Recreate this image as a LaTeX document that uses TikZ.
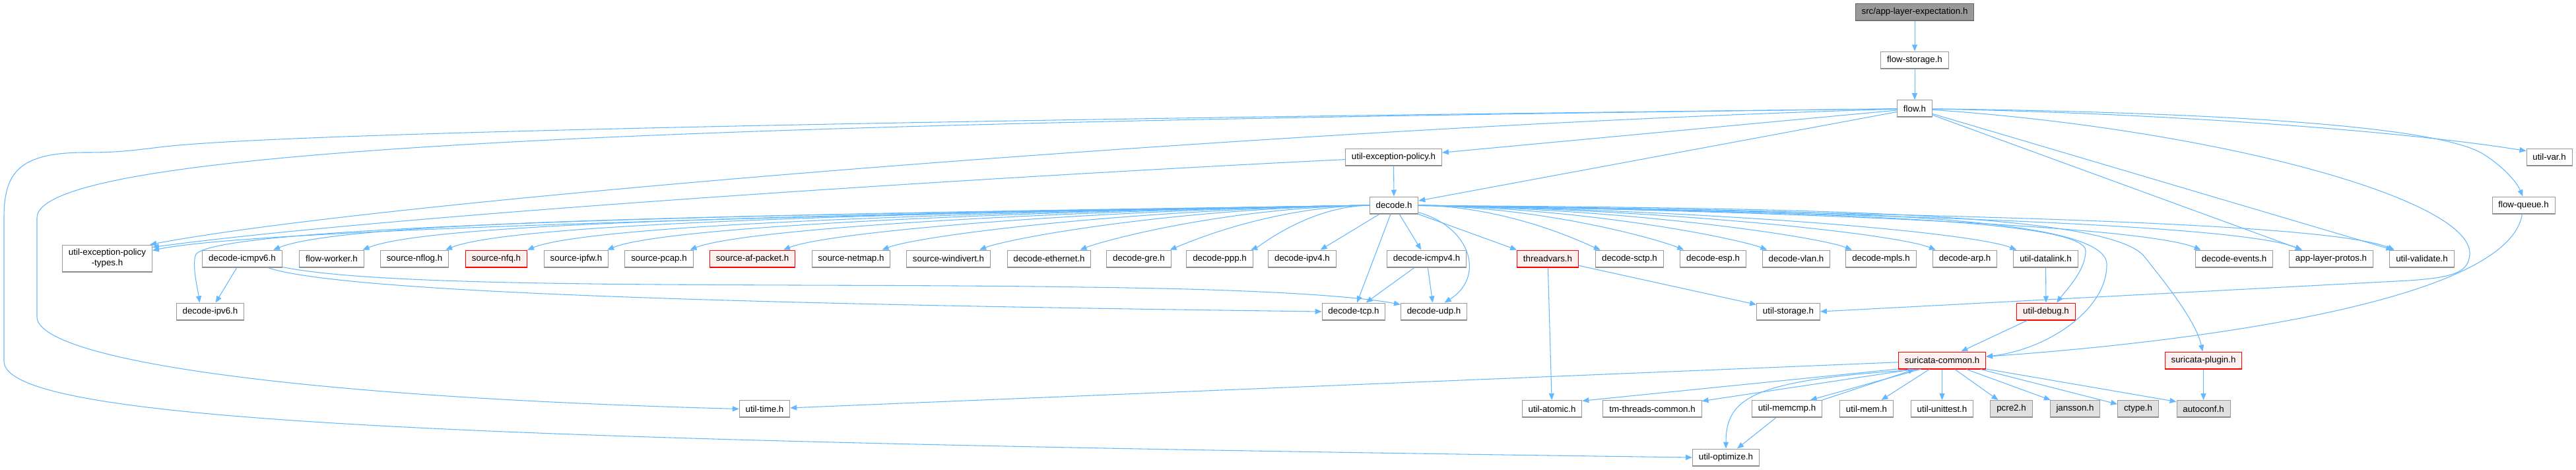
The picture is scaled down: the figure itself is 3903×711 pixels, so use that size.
\documentclass[tikz,border=0pt]{standalone}
\usepackage{fontspec}
\setmainfont{Liberation Sans}
\usetikzlibrary{arrows.meta}

\definecolor{edgeblue}{HTML}{63B8FF}
\definecolor{boxgray}{HTML}{999999}
\definecolor{shadegray}{HTML}{7F7F7F}
\definecolor{redfill}{HTML}{FFF0F0}
\definecolor{sysfill}{HTML}{E0E0E0}
\definecolor{topdraw}{HTML}{666666}

\begin{document}
\begin{tikzpicture}[x=0.75pt,y=-0.75pt]
		\newcommand{\rowzero}{18}
		\newcommand{\rowone}{91}
		\newcommand{\rowtwo}{164.5}
		\newcommand{\rowthree}{238}
		\newcommand{\rowfour}{311}
		\newcommand{\rowfive}{392}
		\newcommand{\rowsix}{472}
		\newcommand{\rowseven}{546}
		\newcommand{\roweight}{619.5}
		\newcommand{\rownine}{693}

		% set the styles of the boxes and the includes
		\tikzset{
			file/.style={
				draw=boxgray,
				fill=white,
				line width=0.75pt,
				minimum height=19.5pt,
				inner xsep=7pt,
				inner ysep=0pt,
				font=\fontsize{10pt}{12pt}\selectfont,
				path picture={\draw[line width=2pt,shadegray] (path picture bounding box.south west) -- (path picture bounding box.south east);}
				},
			bad/.style={
				file,
				draw=red,
				fill=redfill,
				path picture={\draw[line width=2pt,red] (path picture bounding box.south west) -- (path picture bounding box.south east);}
				},
			sys/.style={file, fill=sysfill},
			main/.style={file, draw=topdraw, fill=boxgray},
			dep/.style={
				draw=edgeblue,
				line width=0.8pt,
				-{Triangle[length=7.5pt,width=6pt]}
				}
		}

		\useasboundingbox (0,0) rectangle (3903,711);

		% top of the graph
		\node[main] (top) at (2901,\rowzero) {src/app-layer-expectation.h};
		\node[file] (flowstor) at (2901,\rowone) {flow-storage.h};
		\node[file] (flow) at (2901,\rowtwo) {flow.h};
		\node[file] (uepol) at (2111.5,\rowthree) {util-exception-policy.h};
		\node[file] (uvar) at (3862.5,\rowthree) {util-var.h};
		\node[file] (decode) at (2112,\rowfour) {decode.h};
		\node[file] (fqueue) at (3823.5,\rowfour) {flow-queue.h};

		% headers of decode.h
		\node[file, align=center, minimum height=30.75pt] (types) at (162.5,391.5) {util-exception-policy\\-types.h};
		\node[file] (icmpv6) at (367,\rowfive) {decode-icmpv6.h};
		\node[file] (flowworker) at (502.5,\rowfive) {flow-worker.h};
		\node[file] (nflog) at (628,\rowfive) {source-nflog.h};
		\node[bad] (nfq) at (752,\rowfive) {source-nfq.h};
		\node[file] (ipfw) at (873,\rowfive) {source-ipfw.h};
		\node[file] (pcap) at (998.5,\rowfive) {source-pcap.h};
		\node[bad] (afpacket) at (1140,\rowfive) {source-af-packet.h};
		\node[file] (netmap) at (1289.5,\rowfive) {source-netmap.h};
		\node[file] (windivert) at (1437,\rowfive) {source-windivert.h};
		\node[file] (ethernet) at (1589.5,\rowfive) {decode-ethernet.h};
		\node[file] (gre) at (1725.5,\rowfive) {decode-gre.h};
		\node[file] (ppp) at (1848,\rowfive) {decode-ppp.h};
		\node[file] (ipv4) at (1973,\rowfive) {decode-ipv4.h};
		\node[file] (icmpv4) at (2161.5,\rowfive) {decode-icmpv4.h};
		\node[bad] (threadvars) at (2345,\rowfive) {threadvars.h};
		\node[file] (sctp) at (2469,\rowfive) {decode-sctp.h};
		\node[file] (esp) at (2595.5,\rowfive) {decode-esp.h};
		\node[file] (vlan) at (2721.5,\rowfive) {decode-vlan.h};
		\node[file] (mpls) at (2850,\rowfive) {decode-mpls.h};
		\node[file] (arp) at (2977,\rowfive) {decode-arp.h};
		\node[file] (datalink) at (3099.5,\rowfive) {util-datalink.h};
		\node[file] (events) at (3385,\rowfive) {decode-events.h};
		\node[file] (aprotos) at (3532,\rowfive) {app-layer-protos.h};
		\node[file] (uvalid) at (3669.5,\rowfive) {util-validate.h};

		\node[file] (ipv6) at (318.5,\rowsix) {decode-ipv6.h};
		\node[file] (tcp) at (2051,\rowsix) {decode-tcp.h};
		\node[file] (udp) at (2172.5,\rowsix) {decode-udp.h};
		\node[file] (ustorage) at (2709.5,\rowsix) {util-storage.h};
		\node[bad] (udebug) at (3100,\rowsix) {util-debug.h};

		% bottom of the graph
		\node[bad] (scommon) at (2942.5,\rowseven) {suricata-common.h};
		\node[bad] (splugin) at (3338.5,\rowseven) {suricata-plugin.h};
		\node[file] (utime) at (1158.5,\roweight) {util-time.h};
		\node[file] (uatomic) at (2351.5,\roweight) {util-atomic.h};
		\node[file] (tmthreads) at (2503.5,\roweight) {tm-threads-common.h};
		\node[file] (memcmp) at (2707.5,\roweight) {util-memcmp.h};
		\node[file] (umem) at (2828,\roweight) {util-mem.h};
		\node[file] (unittest) at (2942.5,\roweight) {util-unittest.h};
		\node[sys] (pcre) at (3047.5,\roweight) {pcre2.h};
		\node[sys] (jansson) at (3144,\roweight) {jansson.h};
		\node[sys] (ctype) at (3239.5,\roweight) {ctype.h};
		\node[sys] (autoconf) at (3338.5,\roweight) {autoconf.h};
		\node[file] (uopt) at (2615,\rownine) {util-optimize.h};

		% includes of the top
		\draw[dep] (top) -- (flowstor);
		\draw[dep] (flowstor) -- (flow);

		% includes of flow.h
		\draw[dep] (flow) -- (uepol);
		\draw[dep] (flow) -- (decode);
		\draw[dep] (flow) .. controls (2000,190) and (600,300) .. (types.18);
		\draw[dep] (flow) .. controls (1200,185) and (56,215) .. (56,330) -- (56,480) .. controls (56,540) and (400,600) .. (utime.west);
		\draw[dep] (flow) .. controls (1500,180) and (450,200) .. (250,222) .. controls (200,228) and (180,231) .. (130,231) .. controls (30,231) and (6,260) .. (6,330) -- (6,547) .. controls (6,640) and (700,668) .. (uopt.west);
		\draw[dep] (flow) .. controls (3300,172) and (3650,200) .. (uvar.165);
		\draw[dep] (flow) .. controls (3350,170) and (3700,190) .. (3765,235) .. controls (3800,258) and (3815,280) .. (fqueue.95);
		\draw[dep] (flow) -- (aprotos.163);
		\draw[dep] (flow) -- (uvalid.163);
		\draw[dep] (flow) .. controls (3350,195) and (3745,300) .. (3742,385) .. controls (3740,412) and (3720,420) .. (3650,425) -- (ustorage.east);

		% includes of util-exception-policy.h
		\draw[dep] (uepol) -- (decode);
		\draw[dep] (uepol) .. controls (1500,268) and (600,325) .. (types.14);

		% includes of decode.h, left side
		\draw[dep] (decode.west) .. controls +(-939,16) and +(140,-30) .. (types.10);
		\draw[dep] (decode) .. controls (1000,325) and (330,345) .. (297,385) .. controls (290,400) and (300,440) .. (ipv6.140);
		\draw[dep] (decode.west) .. controls +(-848,15) and +(120,-48) .. (icmpv6.16);
		\draw[dep] (decode.west) .. controls +(-779,14) and +(110,-44) .. (flowworker.16);
		\draw[dep] (decode.west) .. controls +(-715,12) and +(101,-41) .. (nflog.16);
		\draw[dep] (decode.west) .. controls +(-652,11) and +(92,-37) .. (nfq.16);
		\draw[dep] (decode.west) .. controls +(-590,10) and +(83,-34) .. (ipfw.16);
		\draw[dep] (decode.west) .. controls +(-526,9) and +(74,-30) .. (pcap.16);
		\draw[dep] (decode.west) .. controls +(-454,8) and +(64,-26) .. (afpacket.16);
		\draw[dep] (decode.west) .. controls +(-377,7) and +(53,-21) .. (netmap.16);
		\draw[dep] (decode.west) .. controls +(-302,5) and +(43,-17) .. (windivert.16);
		\draw[dep] (decode.west) .. controls +(-224,4) and +(32,-13) .. (ethernet.16);
		\draw[dep] (decode.west) .. controls +(-155,3) and +(22,-9) .. (gre.16);
		\draw[dep] (decode.west) .. controls +(-93,2) and +(13,-5) .. (ppp.16);
		\draw[dep] (decode) -- (ipv4.26);
		% below
		\draw[dep] (decode) -- (tcp);
		\draw[dep] (decode) -- (icmpv4);
		\draw[dep] (decode) .. controls (2230,345) and (2250,420) .. (udp.40);
		% right side
		\draw[dep] (decode) -- (threadvars.north west);
		\draw[dep] (decode.east) .. controls +(141,2) and +(-20,-8) .. (sctp.163);
		\draw[dep] (decode.east) .. controls +(207,4) and +(-29,-12) .. (esp.163);
		\draw[dep] (decode.east) .. controls +(270,5) and +(-38,-15) .. (vlan.163);
		\draw[dep] (decode.east) .. controls +(335,6) and +(-48,-19) .. (mpls.163);
		\draw[dep] (decode.east) .. controls +(401,7) and +(-57,-23) .. (arp.163);
		\draw[dep] (decode.east) .. controls +(463,8) and +(-66,-26) .. (datalink.163);
		\draw[dep] (decode.east) .. controls +(605,10) and +(-86,-35) .. (events.165);
		\draw[dep] (decode.east) .. controls +(681,12) and +(-97,-39) .. (aprotos.163);
		\draw[dep] (decode.east) .. controls +(755,13) and +(-107,-43) .. (uvalid.162);
		\draw[dep] (decode) .. controls (2700,320) and (3160,330) .. (3160,380) .. controls (3160,410) and (3130,440) .. (udebug.40);
		\draw[dep] (decode) .. controls (2700,318) and (3190,320) .. (3192,400) .. controls (3193,470) and (3100,530) .. (scommon.5);
		\draw[dep] (decode) .. controls (2700,315) and (3200,320) .. (3250,390) .. controls (3290,440) and (3328,490) .. (splugin.95);

		% includes of the second row
		\draw[dep] (icmpv6) -- (ipv6);
		\draw[dep] (icmpv6) .. controls (520,445) and (1200,462) .. (tcp.west);
		\draw[dep] (icmpv6) .. controls (600,440) and (1200,428) .. (1640,435) .. controls (1900,438) and (2050,448) .. (udp.168);
		\draw[dep] (icmpv4) -- (tcp);
		\draw[dep] (icmpv4) -- (udp);
		\draw[dep] (threadvars) -- (ustorage);
		\draw[dep] (threadvars) -- (uatomic);
		\draw[dep] (datalink) -- (udebug);
		\draw[dep] (udebug) -- (scommon);
		\draw[dep] (fqueue) .. controls (3800,460) and (3300,520) .. (scommon.5);
		\draw[dep] (splugin) -- (autoconf);

		% includes of suricata-common.h
		\draw[dep] (scommon) -- (utime);
		\draw[dep] (scommon.191) -- (uatomic.15);
		\draw[dep] (scommon.197) -- (tmthreads.9);
		\draw[dep] (scommon.202) -- (memcmp.21);
		\draw[dep] (memcmp.north east) -- (scommon.198);
		\draw[dep] (scommon.215) -- (umem.31);
		\draw[dep] (scommon) -- (unittest);
		\draw[dep] (scommon.325) -- (pcre.146);
		\draw[dep] (scommon.340) -- (jansson.160);
		\draw[dep] (scommon.347) -- (ctype.167);
		\draw[dep] (scommon.349) -- (autoconf.165);
		\draw[dep] (scommon.203) .. controls (2660,575) and (2615,600) .. (uopt.north);
		\draw[dep] (memcmp) -- (uopt);
\end{tikzpicture}
\end{document}
